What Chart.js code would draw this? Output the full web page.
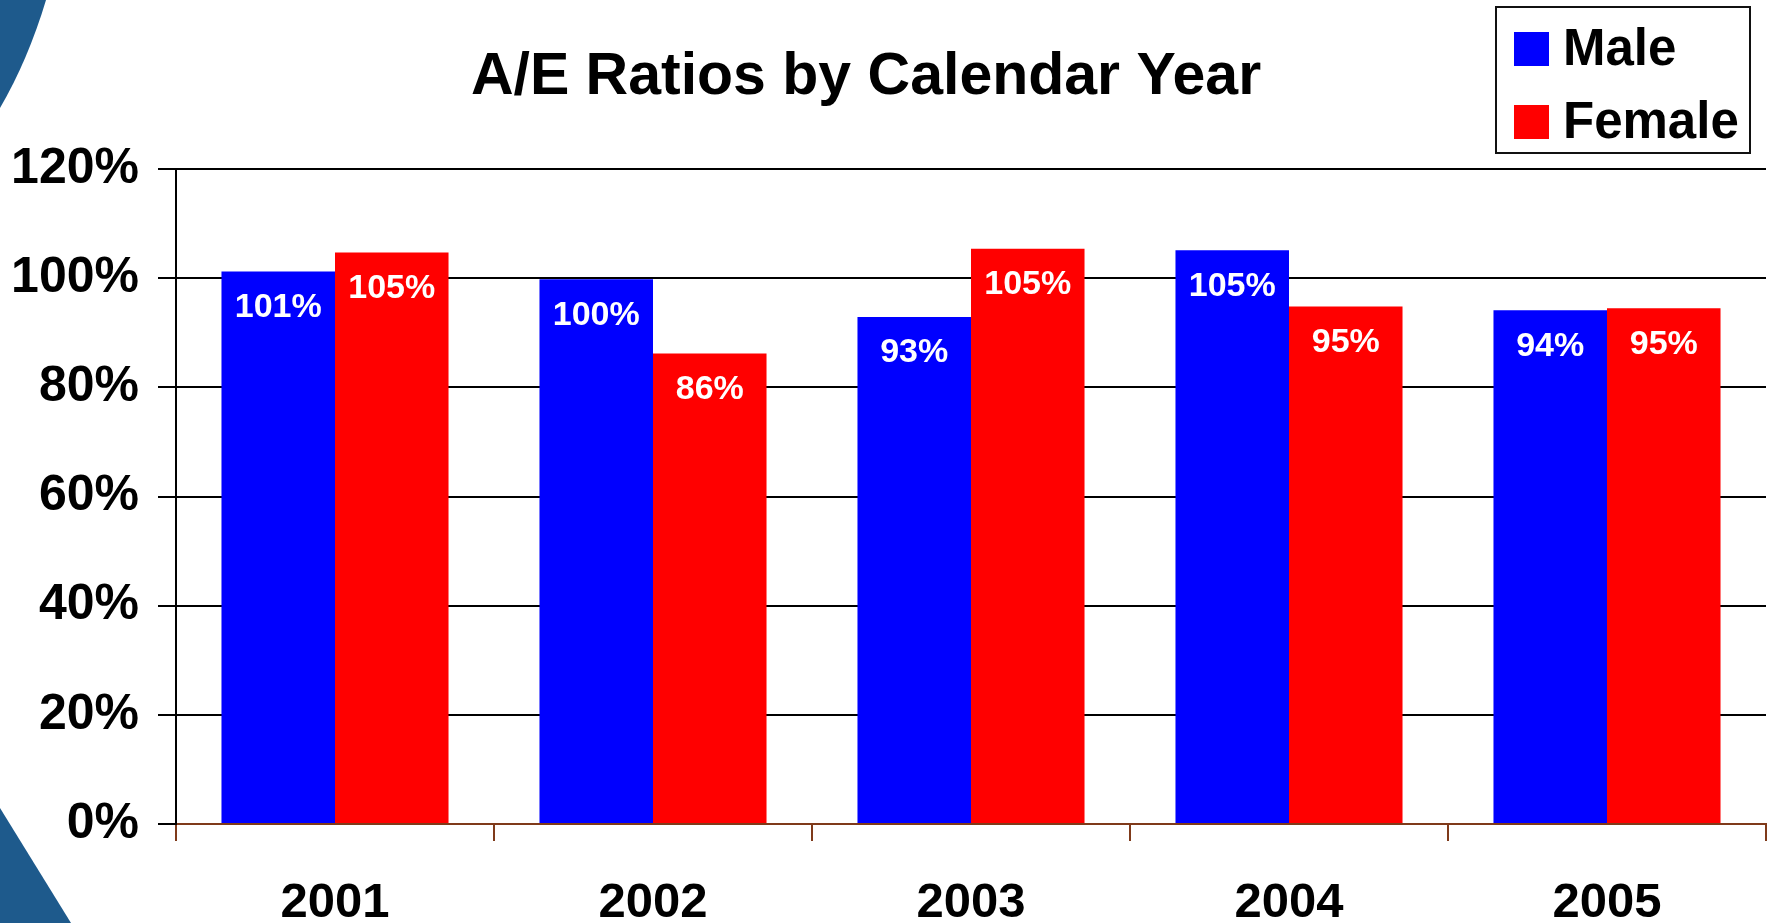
<!DOCTYPE html>
<html>
<head>
<meta charset="utf-8">
<script src="https://cdn.jsdelivr.net/npm/chart.js@4/dist/chart.umd.min.js"></script>
<style>
  html, body { margin: 0; padding: 0; background: #fff; }
  canvas { display: block; }
</style>
</head>
<body>
<canvas id="aeChart" width="1767" height="923"></canvas>
<script>
// data
const years = ['2001', '2002', '2003', '2004', '2005'];
const maleRatio = [101.2, 99.8, 92.9, 105.1, 94.1];
const femaleRatio = [104.7, 86.2, 105.4, 94.8, 94.5];
const yTicks = [0, 20, 40, 60, 80, 100, 120];

const chartTitle = 'A/E Ratios by Calendar Year';
const FONT = '"Liberation Sans", Arial, sans-serif';

// blue corner shapes of the slide
const slideDecor = {
    id: 'slideDecor',
    beforeDraw(chart) {
        const c = chart.ctx;
        c.save();
        c.fillStyle = '#1e5a8c';
        c.beginPath();
        c.moveTo(0, 0);
        c.lineTo(46, 0);
        c.quadraticCurveTo(28, 60, 0, 108);
        c.closePath();
        c.fill();
        c.beginPath();
        c.moveTo(0, 808);
        c.lineTo(71, 923);
        c.lineTo(0, 923);
        c.closePath();
        c.fill();
        c.restore();
    }
};

// title, value labels and the boxed legend
const extras = {
    id: 'extras',
    afterDraw(chart) {
        const c = chart.ctx;
        c.save();

        c.fillStyle = '#000';
        c.font = 'bold 59px ' + FONT;
        c.textAlign = 'center';
        c.textBaseline = 'alphabetic';
        c.fillText(chartTitle, 866, 94);

        // values inside the bars
        c.font = 'bold 34px ' + FONT;
        c.fillStyle = '#fff';
        c.textBaseline = 'middle';
        chart.data.datasets.forEach((ds, i) => {
            chart.getDatasetMeta(i).data.forEach((bar, j) => {
                c.fillText(Math.round(ds.data[j]) + '%', bar.x, bar.y + 36);
            });
        });

        // legend
        c.strokeStyle = '#111';
        c.lineWidth = 2;
        c.fillStyle = '#fff';
        c.fillRect(1496, 7, 254, 146);
        c.strokeRect(1496, 7, 254, 146);
        c.textAlign = 'left';
        c.textBaseline = 'alphabetic';
        c.font = 'bold 51px ' + FONT;
        chart.data.datasets.forEach((ds, i) => {
            const top = 32 + i * 73;
            c.fillStyle = ds.backgroundColor;
            c.fillRect(1514, top, 35, 34);
            c.fillStyle = '#000';
            c.fillText(ds.label, 1563, top + 33);
        });
        c.restore();
    }
};

const ctx = document.getElementById('aeChart').getContext('2d');
const aeChart = new Chart(ctx, {
    type: 'bar',
    data: {
        labels: years,
        datasets: [{
            label: 'Male',
            data: maleRatio,
            backgroundColor: '#0000ff',
            categoryPercentage: 0.714,
            barPercentage: 1.0
        }, {
            label: 'Female',
            data: femaleRatio,
            backgroundColor: '#ff0000',
            categoryPercentage: 0.714,
            barPercentage: 1.0
        }]
    },
    options: {
        responsive: false,
        animation: false,
        devicePixelRatio: 1,
        layout: { padding: { top: 169, right: 1, bottom: 0, left: 0 } },
        plugins: {
            legend: { display: false },
            title: { display: false },
            tooltip: { enabled: false }
        },
        scales: {
            x: {
                grid: {
                    offset: true,
                    drawOnChartArea: false,
                    drawTicks: true,
                    tickLength: 17,
                    color: '#7f3a1a',
                    lineWidth: 2
                },
                border: { display: true, color: '#7f3a1a', width: 2 },
                ticks: {
                    color: '#000',
                    padding: 33,
                    font: { family: FONT, size: 49, weight: 'bold' }
                },
                afterFit(scale) { scale.height = 99; }
            },
            y: {
                min: 0,
                max: 120,
                afterBuildTicks(scale) {
                    scale.ticks = yTicks.map(v => ({ value: v }));
                },
                grid: {
                    color: (c) => c.tick && c.tick.value === 0 ? 'rgba(0,0,0,0)' : '#000',
                    tickColor: '#000',
                    lineWidth: 2,
                    tickLength: 18
                },
                border: { display: true, color: '#000', width: 2 },
                ticks: {
                    color: '#000',
                    padding: 19,
                    font: { family: FONT, size: 50, weight: 'bold' },
                    callback: (v) => v + '%'
                },
                afterFit(scale) { scale.width = 176; }
            }
        }
    },
    plugins: [slideDecor, extras]
});
</script>
</body>
</html>
